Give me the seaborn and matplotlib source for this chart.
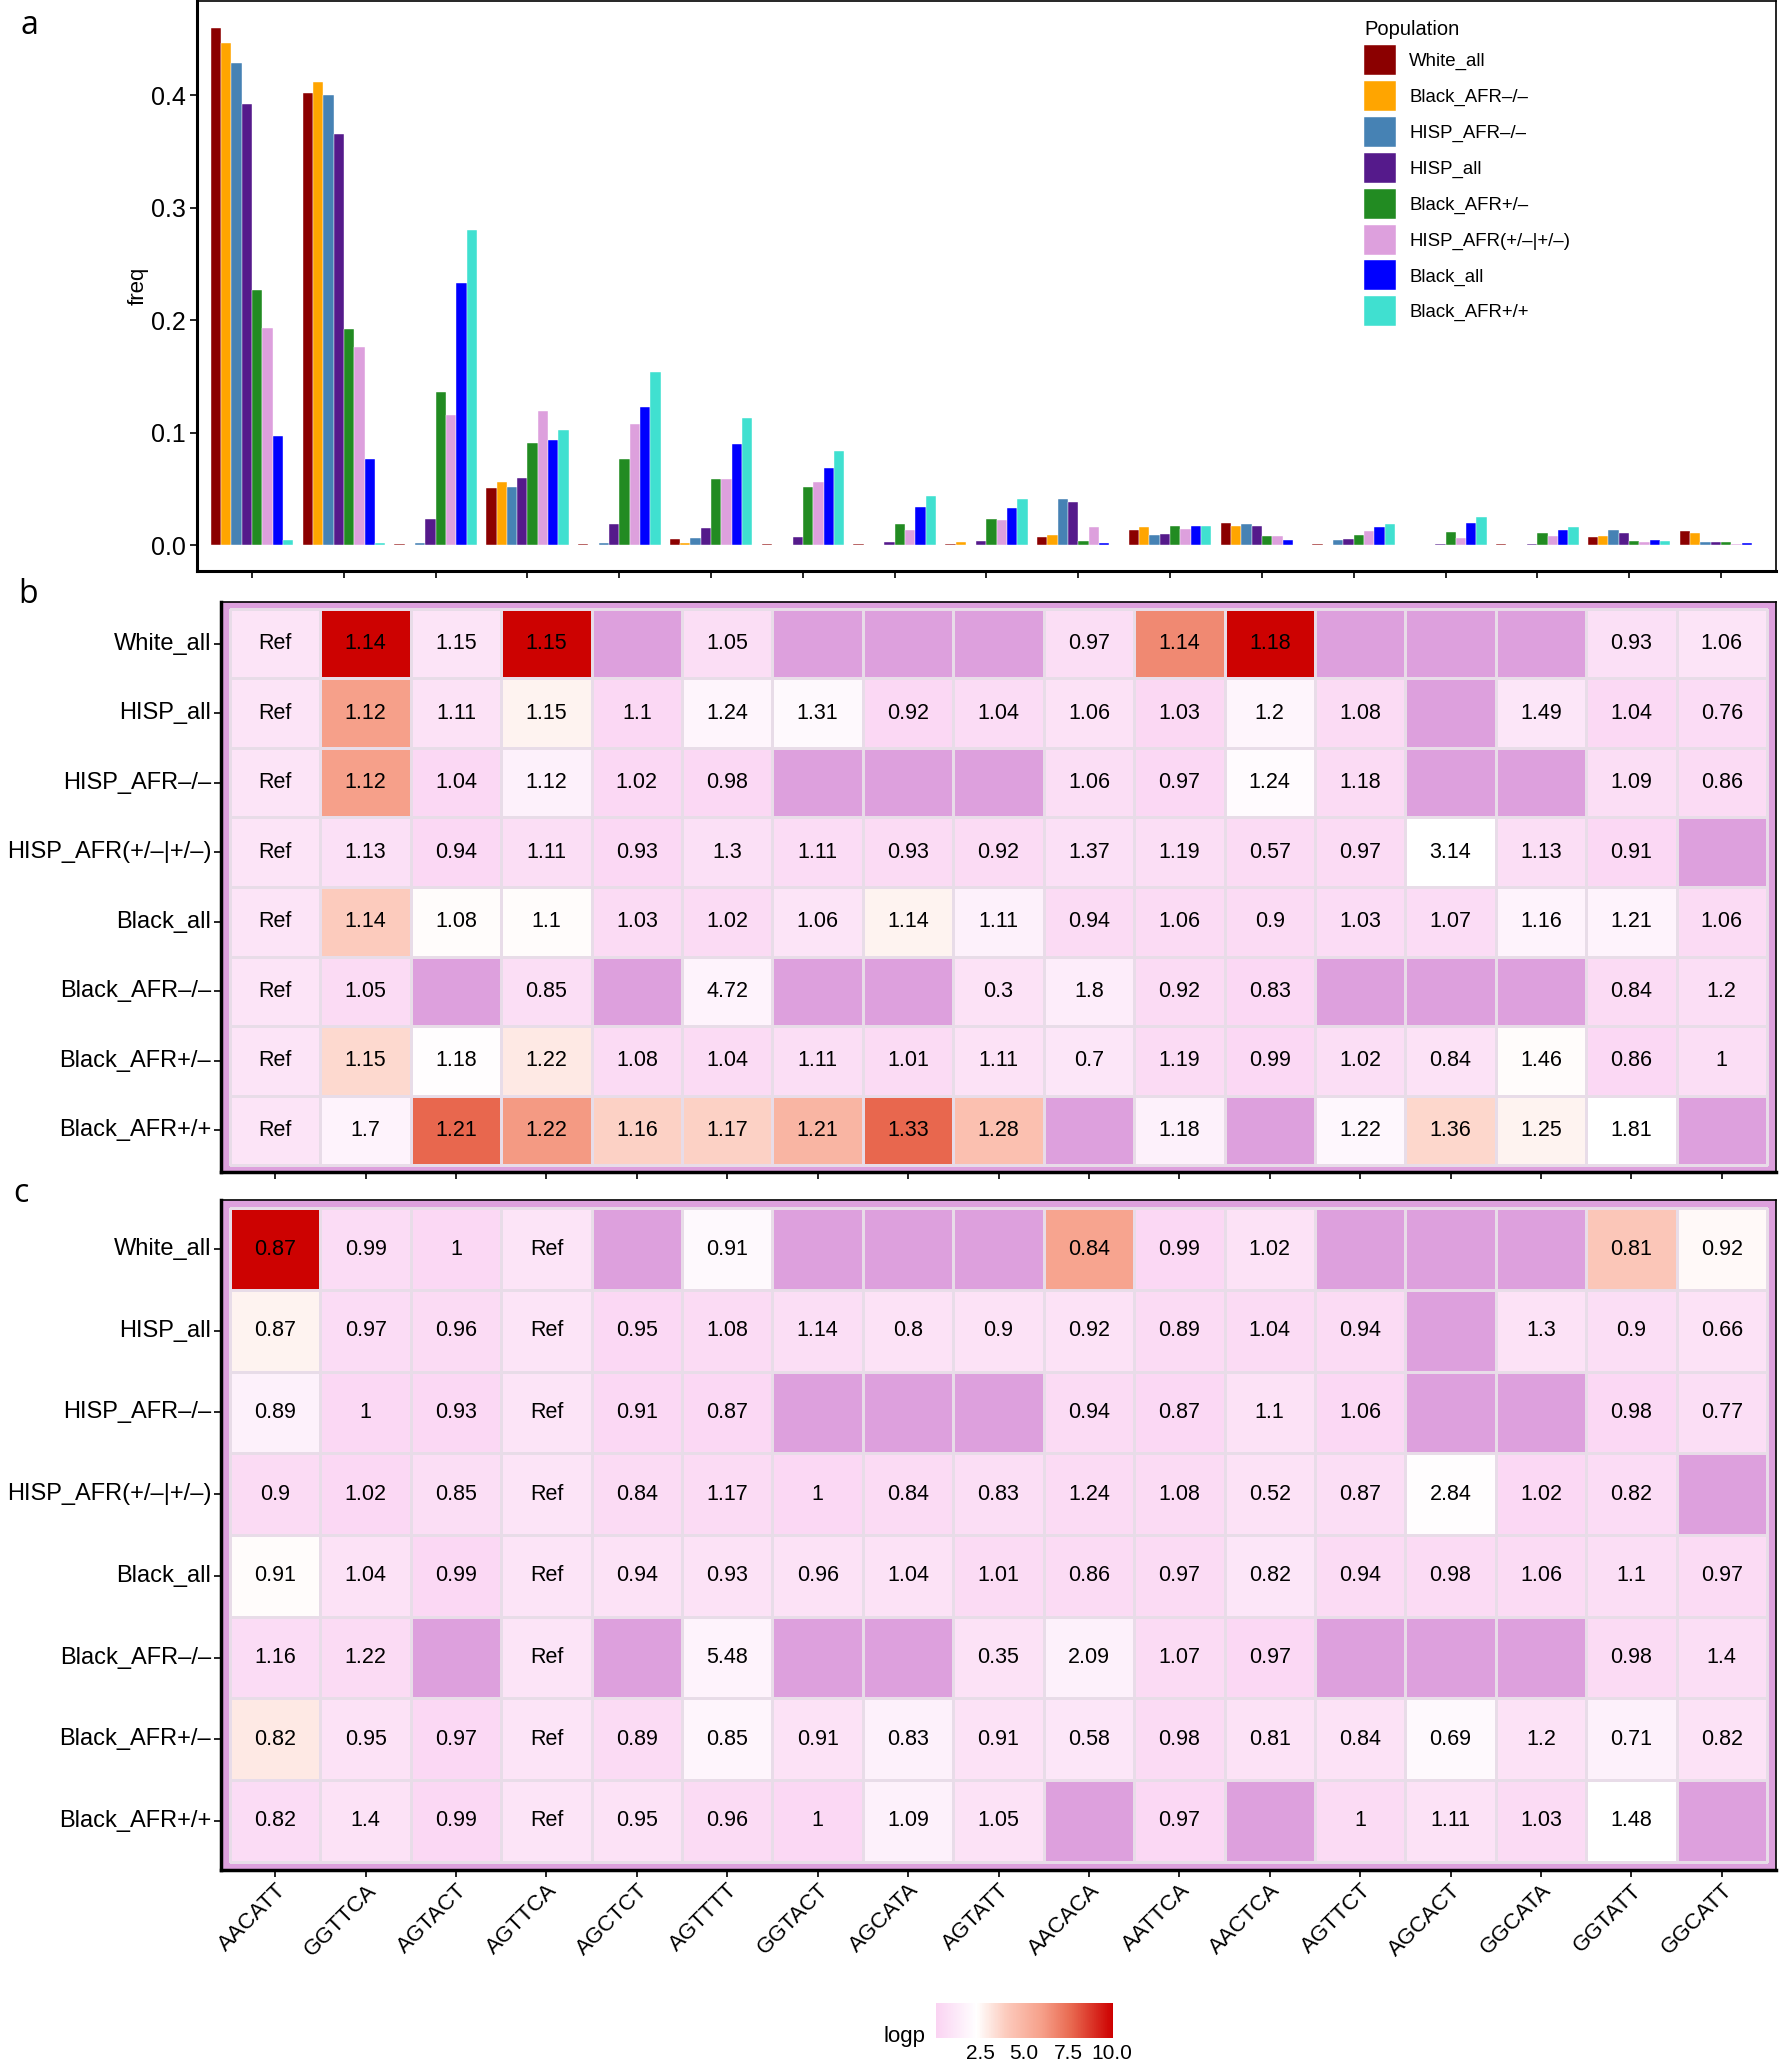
import matplotlib
matplotlib.use('Agg')
import numpy as np
import pandas as pd
import matplotlib.pyplot as plt
from matplotlib.colors import LinearSegmentedColormap, ListedColormap
import seaborn as sns

nan = np.nan

haplotypes = ['AACATT', 'GGTTCA', 'AGTACT', 'AGTTCA', 'AGCTCT', 'AGTTTT', 'GGTACT', 'AGCATA', 'AGTATT',
              'AACACA', 'AATTCA', 'AACTCA', 'AGTTCT', 'AGCACT', 'GGCATA', 'GGTATT', 'GGCATT']

# panel a - haplotype frequencies per population
populations = ['White_all', 'Black_AFR–/–', 'HISP_AFR–/–', 'HISP_all', 'Black_AFR+/–',
               'HISP_AFR(+/–|+/–)', 'Black_all', 'Black_AFR+/+']
pop_colors = ['#8B0000', '#FFA500', '#4682B4', '#551A8B', '#228B22', '#DDA0DD', '#0000FF', '#40E0D0']

freq_white_all = [0.460, 0.402, 0.0012, 0.0507, 0.0008, 0.0055, 0.0008, 0.0008, 0.001, 0.0074, 0.0136, 0.0200, 0.0008, 0.0005, 0.001, 0.0068, 0.0124]
freq_black_afr_nn = [0.447, 0.412, 0.0003, 0.0558, 0.0, 0.0020, 0.0, 0.0, 0.0032, 0.0086, 0.0159, 0.0171, 0.0, 0.0, 0.0, 0.0083, 0.0112]
freq_hisp_afr_nn = [0.429, 0.400, 0.0021, 0.0515, 0.0021, 0.0067, 0.0005, 0.0005, 0.0005, 0.0413, 0.0091, 0.0192, 0.0044, 0.0004, 0.0, 0.0133, 0.0032]
freq_hisp_all = [0.392, 0.366, 0.023, 0.0595, 0.0189, 0.0154, 0.0076, 0.0024, 0.0038, 0.0383, 0.0097, 0.0174, 0.0053, 0.0010, 0.0010, 0.0112, 0.0032]
freq_black_afr_pn = [0.227, 0.192, 0.1366, 0.0907, 0.0762, 0.0584, 0.0514, 0.0192, 0.0236, 0.0035, 0.0174, 0.0077, 0.0094, 0.0118, 0.0106, 0.0035, 0.0030]
freq_hisp_afr_mix = [0.193, 0.1766, 0.1162, 0.119, 0.108, 0.059, 0.056, 0.0133, 0.0224, 0.0165, 0.0145, 0.0077, 0.0124, 0.0062, 0.0080, 0.0030, 0.0010]
freq_black_all = [0.0975, 0.0765, 0.233, 0.0933, 0.1227, 0.0903, 0.0686, 0.0342, 0.033, 0.0018, 0.0168, 0.0044, 0.0162, 0.0195, 0.0139, 0.0044, 0.0018]
freq_black_afr_pp = [0.0047, 0.002, 0.2805, 0.1025, 0.154, 0.113, 0.0839, 0.0437, 0.0413, 0.0003, 0.0171, 0.0005, 0.0192, 0.0254, 0.0165, 0.0035, 0.0003]

freq_by_pop = [freq_white_all, freq_black_afr_nn, freq_hisp_afr_nn, freq_hisp_all,
               freq_black_afr_pn, freq_hisp_afr_mix, freq_black_all, freq_black_afr_pp]

# panels b, c - ratios (text) and logp (fill)
heat_rows = ['White_all', 'HISP_all', 'HISP_AFR–/–', 'HISP_AFR(+/–|+/–)', 'Black_all',
             'Black_AFR–/–', 'Black_AFR+/–', 'Black_AFR+/+']

b_text = [
    ['Ref', '1.14', '1.15', '1.15', '', '1.05', '', '', '', '0.97', '1.14', '1.18', '', '', '', '0.93', '1.06'],
    ['Ref', '1.12', '1.11', '1.15', '1.1', '1.24', '1.31', '0.92', '1.04', '1.06', '1.03', '1.2', '1.08', '', '1.49', '1.04', '0.76'],
    ['Ref', '1.12', '1.04', '1.12', '1.02', '0.98', '', '', '', '1.06', '0.97', '1.24', '1.18', '', '', '1.09', '0.86'],
    ['Ref', '1.13', '0.94', '1.11', '0.93', '1.3', '1.11', '0.93', '0.92', '1.37', '1.19', '0.57', '0.97', '3.14', '1.13', '0.91', ''],
    ['Ref', '1.14', '1.08', '1.1', '1.03', '1.02', '1.06', '1.14', '1.11', '0.94', '1.06', '0.9', '1.03', '1.07', '1.16', '1.21', '1.06'],
    ['Ref', '1.05', '', '0.85', '', '4.72', '', '', '0.3', '1.8', '0.92', '0.83', '', '', '', '0.84', '1.2'],
    ['Ref', '1.15', '1.18', '1.22', '1.08', '1.04', '1.11', '1.01', '1.11', '0.7', '1.19', '0.99', '1.02', '0.84', '1.46', '0.86', '1'],
    ['Ref', '1.7', '1.21', '1.22', '1.16', '1.17', '1.21', '1.33', '1.28', '', '1.18', '', '1.22', '1.36', '1.25', '1.81', ''],
]
b_logp = [
    [0.9, 10.0, 0.9, 10.0, nan, 0.6, nan, nan, nan, 0.6, 6.7, 10.0, nan, nan, nan, 0.7, 0.9],
    [0.9, 6.0, 0.8, 2.7, 0.3, 1.8, 2.0, 0.3, 0.5, 0.8, 0.25, 1.8, 0.4, nan, 1.0, 0.35, 0.5],
    [0.9, 6.0, 0.3, 1.6, 0.3, 0.3, nan, nan, nan, 0.6, 0.3, 2.1, 0.4, nan, nan, 0.6, 0.4],
    [0.9, 0.7, 0.3, 0.6, 0.3, 0.7, 0.5, 0.4, 0.4, 0.7, 0.6, 0.4, 0.4, 2.3, 0.6, 0.3, nan],
    [0.9, 4.0, 2.4, 2.4, 0.4, 0.4, 0.9, 2.7, 1.6, 0.4, 0.4, 0.4, 0.5, 0.5, 1.7, 1.7, 0.4],
    [0.9, 0.4, nan, 0.6, nan, 1.7, nan, nan, 0.8, 1.4, 0.4, 0.3, nan, nan, nan, 0.4, 0.6],
    [0.9, 3.5, 2.2, 3.0, 0.4, 0.4, 0.6, 0.4, 0.8, 1.0, 0.4, 0.3, 0.6, 0.8, 2.4, 0.3, 0.6],
    [0.9, 1.7, 7.7, 6.2, 3.8, 3.8, 5.0, 7.7, 4.5, nan, 1.6, nan, 1.9, 3.6, 2.7, 2.3, nan],
]

c_text = [
    ['0.87', '0.99', '1', 'Ref', '', '0.91', '', '', '', '0.84', '0.99', '1.02', '', '', '', '0.81', '0.92'],
    ['0.87', '0.97', '0.96', 'Ref', '0.95', '1.08', '1.14', '0.8', '0.9', '0.92', '0.89', '1.04', '0.94', '', '1.3', '0.9', '0.66'],
    ['0.89', '1', '0.93', 'Ref', '0.91', '0.87', '', '', '', '0.94', '0.87', '1.1', '1.06', '', '', '0.98', '0.77'],
    ['0.9', '1.02', '0.85', 'Ref', '0.84', '1.17', '1', '0.84', '0.83', '1.24', '1.08', '0.52', '0.87', '2.84', '1.02', '0.82', ''],
    ['0.91', '1.04', '0.99', 'Ref', '0.94', '0.93', '0.96', '1.04', '1.01', '0.86', '0.97', '0.82', '0.94', '0.98', '1.06', '1.1', '0.97'],
    ['1.16', '1.22', '', 'Ref', '', '5.48', '', '', '0.35', '2.09', '1.07', '0.97', '', '', '', '0.98', '1.4'],
    ['0.82', '0.95', '0.97', 'Ref', '0.89', '0.85', '0.91', '0.83', '0.91', '0.58', '0.98', '0.81', '0.84', '0.69', '1.2', '0.71', '0.82'],
    ['0.82', '1.4', '0.99', 'Ref', '0.95', '0.96', '1', '1.09', '1.05', '', '0.97', '', '1', '1.11', '1.03', '1.48', ''],
]
c_logp = [
    [10.0, 0.5, 0.3, 0.9, nan, 2.0, nan, nan, nan, 5.8, 0.3, 0.8, nan, nan, nan, 4.2, 2.5],
    [2.7, 0.5, 0.4, 0.9, 0.3, 0.4, 0.6, 0.8, 0.8, 0.8, 0.4, 0.4, 0.4, nan, 0.8, 0.6, 0.8],
    [1.6, 0.3, 0.3, 0.9, 0.3, 0.3, nan, nan, nan, 0.4, 0.3, 0.8, 0.3, nan, nan, 0.3, 0.6],
    [0.4, 0.3, 0.6, 0.9, 0.4, 0.4, 0.3, 0.4, 0.6, 0.4, 0.4, 0.8, 0.6, 2.2, 0.3, 0.5, nan],
    [2.4, 0.8, 0.3, 0.9, 0.8, 0.8, 0.8, 0.8, 0.4, 0.4, 0.4, 1.0, 0.4, 0.4, 0.4, 0.6, 0.4],
    [0.5, 0.4, nan, 0.9, nan, 1.7, nan, nan, 0.8, 1.6, 0.4, 0.3, nan, nan, nan, 0.4, 0.6],
    [3.0, 0.8, 0.3, 0.9, 0.4, 1.8, 0.8, 1.6, 0.8, 1.0, 0.4, 0.8, 0.8, 2.0, 0.8, 1.6, 0.8],
    [0.5, 0.8, 0.3, 0.9, 0.8, 0.4, 0.3, 1.6, 0.8, nan, 0.3, nan, 0.4, 0.8, 0.4, 2.3, nan],
]

logp_ticks = [2.5, 5.0, 7.5, 10.0]

# ------------------------------------------------------------------
sns.set_style('ticks')
plt.rcParams['font.family'] = ['Liberation Sans', 'DejaVu Sans']
plt.rcParams['text.color'] = 'black'
plt.rcParams['axes.labelcolor'] = 'black'
plt.rcParams['xtick.color'] = 'black'
plt.rcParams['ytick.color'] = 'black'

W, H = 1779, 2064
fig = plt.figure(figsize=(W / 100, H / 100), dpi=100)

def box(x0, y0, x1, y1):
    # pixel box (top-left origin) -> figure fraction rect
    return [x0 / W, 1 - y1 / H, (x1 - x0) / W, (y1 - y0) / H]

# ---------------- panel a ----------------
ax_a = fig.add_axes(box(197, 1, 1776, 571))
rows = []
for pop, vals in zip(populations, freq_by_pop):
    for hap, v in zip(haplotypes, vals):
        rows.append((hap, pop, v))
df_freq = pd.DataFrame(rows, columns=['haplotype', 'Population', 'freq'])

sns.barplot(data=df_freq, x='haplotype', y='freq', hue='Population', order=haplotypes,
            hue_order=populations, palette=dict(zip(populations, pop_colors)),
            width=0.9, saturation=1, errorbar=None, edgecolor='white', linewidth=0.3, ax=ax_a)
ax_a.set_xlim(-0.6, 16.6)
ax_a.set_ylim(-0.023, 0.484)
ax_a.set_yticks([0.0, 0.1, 0.2, 0.3, 0.4])
ax_a.set_yticklabels(['0.0', '0.1', '0.2', '0.3', '0.4'], fontsize=18)
ax_a.set_xticklabels([])
ax_a.set_xlabel('')
ax_a.set_ylabel('freq', fontsize=16, labelpad=2)
ax_a.tick_params(length=5, width=1.2, pad=3)
for side, sp in ax_a.spines.items():
    sp.set_visible(True)
    sp.set_color('black')
    sp.set_linewidth(2.2 if side in ('left', 'bottom') else 1.2)

handles, labels = ax_a.get_legend_handles_labels()
leg = ax_a.legend(handles, labels, title='Population', loc='upper left',
                  bbox_to_anchor=(1364 / W, 1 - 20 / H), bbox_transform=fig.transFigure,
                  frameon=False, fontsize=13.4, title_fontsize=14.5, handlelength=1.72,
                  handleheight=2.1, labelspacing=0.32, handletextpad=0.7, borderpad=0,
                  borderaxespad=0, alignment='left')

# ---------------- panels b, c ----------------
logp_cmap = LinearSegmentedColormap.from_list('logp', [
    (0.0, '#FAD3F2'), (2.3 / 10.05, '#FFFFFF'), (4.0 / 10.05, '#FCCABC'),
    (6.0 / 10.05, '#F6A08A'), (7.7 / 10.05, '#E8684F'), (1.0, '#CD0000')])
na_cmap = ListedColormap(['#DDA0DD'])


def draw_heat(ax, logp, text, cbar_ax=None):
    logp_df = pd.DataFrame(logp, index=heat_rows, columns=haplotypes)
    na_df = logp_df.isna().astype(float).where(logp_df.isna())
    sns.heatmap(na_df, cmap=na_cmap, cbar=False, linewidths=0.8, linecolor='#d8c2d8', ax=ax)
    sns.heatmap(logp_df, cmap=logp_cmap, vmin=0, vmax=10.05, annot=np.array(text), fmt='',
                annot_kws={'color': 'black', 'fontsize': 15.5}, linewidths=0.8, linecolor='#e8dce8',
                cbar=cbar_ax is not None, cbar_ax=cbar_ax,
                cbar_kws={'orientation': 'horizontal', 'ticks': logp_ticks}, ax=ax)
    ax.set_facecolor('#DDA0DD')
    ax.set_xlim(-0.1, 17.1)
    ax.set_ylim(8.1, -0.1)
    ax.set_yticks(np.arange(8) + 0.5)
    ax.set_yticklabels(heat_rows, rotation=0, fontsize=17)
    ax.set_xticks(np.arange(17) + 0.5)
    ax.set_xlabel('')
    ax.set_ylabel('')
    ax.tick_params(length=5, width=1.2, pad=2, left=True, bottom=True)
    for side, sp in ax.spines.items():
        sp.set_visible(True)
        sp.set_color('black')
        sp.set_linewidth(2.5 if side in ('left', 'bottom') else 1.2)


ax_b = fig.add_axes(box(221, 602, 1776, 1172))
draw_heat(ax_b, b_logp, b_text)
ax_b.set_xticklabels([])

ax_c = fig.add_axes(box(221, 1200, 1776, 1870))
cax = fig.add_axes(box(936, 2003, 1113, 2038))
draw_heat(ax_c, c_logp, c_text, cbar_ax=cax)
ax_c.set_xticklabels(haplotypes, rotation=45, ha='right', rotation_mode='anchor', fontsize=16)

cbar = ax_c.collections[-1].colorbar
cbar.outline.set_visible(False)
cax.set_xticklabels(['2.5', '5.0', '7.5', '10.0'])
cax.tick_params(axis='x', direction='in', color='white', length=7, width=1.2,
                top=True, bottom=True, labelsize=15, pad=4)
cax.text(-0.06, 0.05, 'logp', transform=cax.transAxes, ha='right', va='center', fontsize=16)

# panel letters
for x, y, letter in [(21, 25, 'a'), (18, 594, 'b'), (13, 1194, 'c')]:
    fig.text(x / W, 1 - y / H, letter, fontsize=23, ha='left', va='center',
             family=['Open Sans', 'DejaVu Sans'])

fig.savefig('out.png', dpi=100)
